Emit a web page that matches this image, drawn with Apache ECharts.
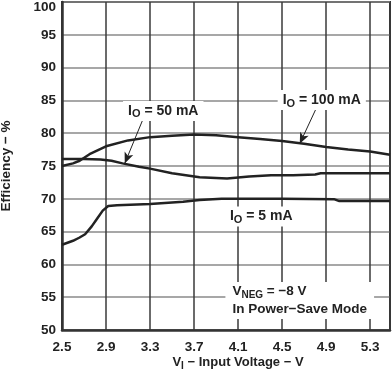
<!DOCTYPE html>
<html>
<head>
<meta charset="utf-8">
<script src="https://cdn.jsdelivr.net/npm/echarts@6/dist/echarts.min.js"></script>
<style>
html,body{margin:0;padding:0;background:#fff;}
#chart{width:392px;height:373px;}
</style>
</head>
<body>
<div id="chart"></div>
<script>
// X axis: input voltage (V); Y axis: efficiency (%)
const xMinV = 2.5;
const xMaxV = 5.48;
const xTickStep = 0.4;
const yMin = 50, yMax = 100, yStep = 5;

// I_O = 100 mA
const v100 = [2.5, 2.6, 2.66, 2.75, 2.9, 3.1, 3.3, 3.5, 3.7, 3.9, 4.1, 4.3, 4.5, 4.7, 4.9, 5.1, 5.3, 5.48];
const e100 = [75.0, 75.4, 75.8, 76.8, 78.0, 78.9, 79.4, 79.6, 79.8, 79.7, 79.4, 79.1, 78.8, 78.4, 77.9, 77.5, 77.2, 76.7];
// I_O = 50 mA
const v50 = [2.5, 2.7, 2.85, 2.95, 3.05, 3.2, 3.3, 3.5, 3.75, 4.0, 4.2, 4.4, 4.6, 4.8, 4.85, 5.1, 5.48];
const e50 = [76.05, 76.05, 76.0, 75.8, 75.4, 74.9, 74.6, 73.9, 73.3, 73.1, 73.4, 73.6, 73.6, 73.7, 73.9, 73.9, 73.9];
// I_O = 5 mA
const v5 = [2.5, 2.6, 2.66, 2.71, 2.77, 2.82, 2.87, 2.92, 3.0, 3.3, 3.6, 3.75, 3.95, 4.5, 4.97, 5.02, 5.48];
const e5 = [63.0, 63.6, 64.1, 64.6, 65.8, 67.0, 68.2, 68.9, 69.0, 69.2, 69.55, 69.8, 70.0, 70.0, 69.95, 69.65, 69.65];

// annotation anchors (data coords: V, %)
const lab50 = [3.42, 83.4];
const lab100 = [4.86, 85.05];
const lab5 = [4.31, 67.3];
const arrow50 = [[3.24, 82.3], [3.07, 75.4]];
const arrow100 = [[4.81, 83.8], [4.66, 78.4]];
const noteAt = [4.66, 54.5];

const FONT = '"Liberation Sans", Arial, Helvetica, sans-serif';
const off = v => +(v - xMinV).toFixed(4);
const pts = (vs, es) => vs.map((v, i) => [off(v), es[i]]);
const c = p => [off(p[0]), p[1]];

function mkRich(size, align) {
  return {
    n: {fontFamily: FONT, fontSize: size, fontWeight: 'bold', color: '#222', lineHeight: size + 4, verticalAlign: 'middle', align: align},
    s: {fontFamily: FONT, fontSize: Math.round(size * 0.75), fontWeight: 'bold', color: '#222', lineHeight: Math.round(size * 0.7), verticalAlign: 'bottom', align: align}
  };
}

function labelPoint(coord, text, pad, align, size) {
  return {
    coord: c(coord),
    symbol: 'circle', symbolSize: 0,
    label: {
      show: true, position: 'inside', formatter: text, rich: mkRich(size || 14, align || 'center'),
      backgroundColor: '#fff', padding: pad || [1, 5, 1, 5]
    }
  };
}

const chart = echarts.init(document.getElementById('chart'), null, {renderer: 'canvas'});
const lineStyle = {color: '#222', width: 2.5};

chart.setOption({
  animation: false,
  backgroundColor: '#fff',
  grid: {left: 62, top: 2, right: 2, bottom: 43, containLabel: false, outerBoundsMode: 'none',
         show: true, borderColor: '#333', borderWidth: 2, backgroundColor: 'transparent'},
  xAxis: {
    type: 'value', min: 0, max: off(xMaxV), interval: xTickStep,
    axisLine: {show: true, lineStyle: {color: '#333', width: 2.5}},
    axisTick: {show: false},
    splitLine: {show: true, lineStyle: {color: '#3a3a3a', width: 1.5}},
    axisLabel: {
      showMaxLabel: false, margin: 10,
      fontFamily: FONT, fontSize: 13.5, fontWeight: 'bold', color: '#222',
      formatter: v => (v + xMinV).toFixed(1)
    },
    name: '{n|V}{s|I}{n| − Input Voltage − V}',
    nameLocation: 'middle', nameGap: 24, nameMoveOverlap: false,
    nameTextStyle: {rich: mkRich(13, 'left'), padding: [0, 0, 0, 24]}
  },
  yAxis: {
    type: 'value', min: yMin, max: yMax, interval: yStep,
    axisLine: {show: true, lineStyle: {color: '#333', width: 2.5}},
    axisTick: {show: false},
    splitLine: {show: true, lineStyle: {color: '#8a8a8a', width: 1.5}},
    axisLabel: {
      margin: 6, fontFamily: FONT, fontSize: 13.5, fontWeight: 'bold', color: '#222',
      formatter: v => v === yMax ? '{top|' + v + '}' : String(v),
      rich: {top: {fontFamily: FONT, fontSize: 13.5, fontWeight: 'bold', color: '#222', padding: [10, 0, 0, 0]}}
    },
    name: 'Efficiency − %', nameLocation: 'middle', nameGap: 49, nameMoveOverlap: false,
    nameTextStyle: {fontFamily: FONT, fontSize: 13.5, fontWeight: 'bold', color: '#222'}
  },
  series: [
    {
      type: 'line', data: pts(v100, e100), showSymbol: false, symbol: 'none', lineStyle: lineStyle, z: 3,
      markLine: {
        silent: true, symbol: ['none', 'arrow'], symbolSize: [7, 11],
        lineStyle: {color: '#222', width: 1, type: 'solid'}, label: {show: false},
        data: [[{coord: c(arrow100[0])}, {coord: c(arrow100[1])}]]
      },
      markPoint: {silent: true, data: [labelPoint(lab100, '{n|I}{s|O}{n| = 100 mA}')]}
    },
    {
      type: 'line', data: pts(v50, e50), showSymbol: false, symbol: 'none', lineStyle: lineStyle, z: 3,
      markLine: {
        silent: true, symbol: ['none', 'arrow'], symbolSize: [7, 11],
        lineStyle: {color: '#222', width: 1, type: 'solid'}, label: {show: false},
        data: [[{coord: c(arrow50[0])}, {coord: c(arrow50[1])}]]
      },
      markPoint: {silent: true, data: [labelPoint(lab50, '{n|I}{s|O}{n| = 50 mA}')]}
    },
    {
      type: 'line', data: pts(v5, e5), showSymbol: false, symbol: 'none', lineStyle: lineStyle, z: 3,
      markPoint: {silent: true, data: [
        labelPoint(lab5, '{n|I}{s|O}{n| = 5 mA}'),
        labelPoint(noteAt, '{n|V}{s|NEG}{n| = −8 V}\n{n|In Power−Save Mode}', [1, 7, 1, 7], 'left', 13.5)
      ]}
    }
  ]
});
</script>
</body>
</html>
